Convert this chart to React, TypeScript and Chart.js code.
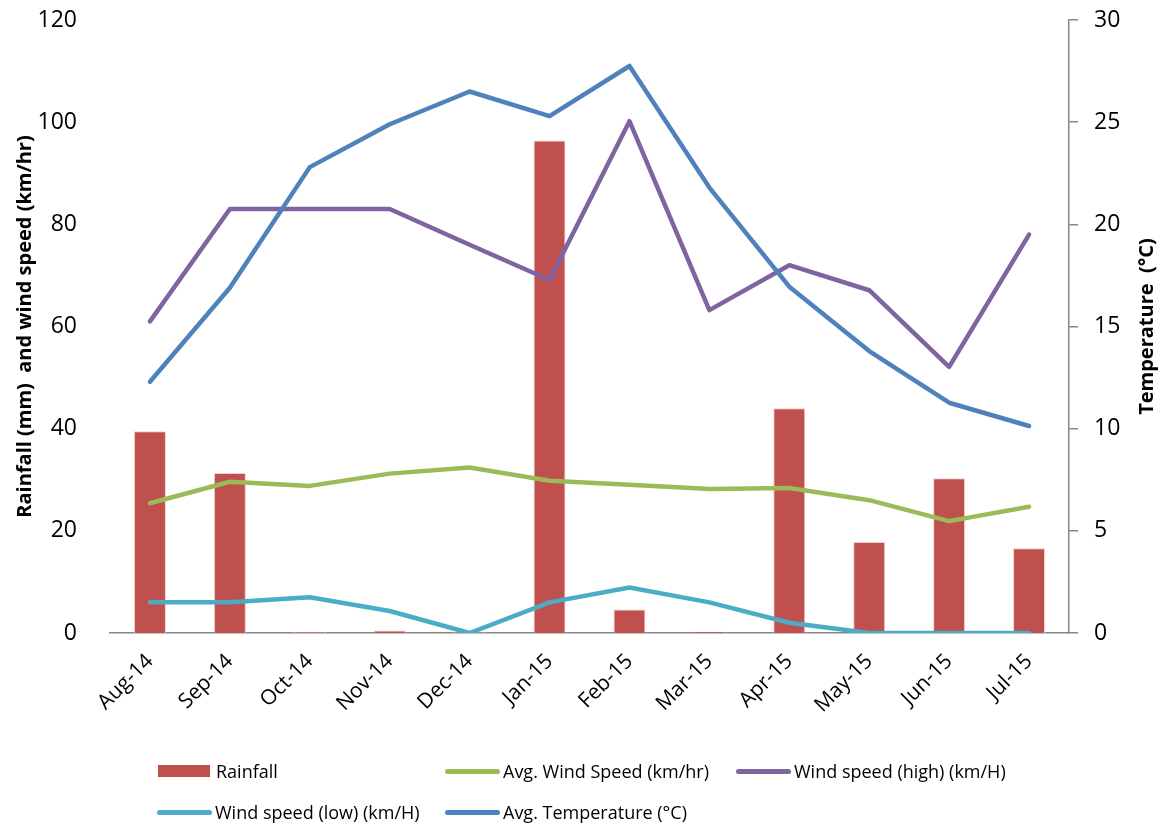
import React, { useEffect, useRef } from "react";
import { Chart, registerables } from "chart.js";

Chart.register(...registerables);

const months = ["Aug-14", "Sep-14", "Oct-14", "Nov-14", "Dec-14", "Jan-15", "Feb-15", "Mar-15", "Apr-15", "May-15", "Jun-15", "Jul-15"];
const rainfall = [39.5, 31.3, 0.2, 0.5, 0.2, 96.4, 4.6, 0.25, 44, 17.8, 30.3, 16.6];
const avgWind = [25.4, 29.6, 28.8, 31.2, 32.4, 29.8, 29.0, 28.2, 28.4, 26.0, 21.9, 24.7];
const windHigh = [61, 83, 83, 83, 76, 69.1, 100.2, 63.2, 72, 67.1, 52.1, 78];
const windLow = [6, 6, 7, 4.3, 0, 6, 8.9, 6, 2, 0, 0, 0];
const avgTemp = [12.3, 16.9, 22.8, 24.9, 26.5, 25.3, 27.75, 21.8, 16.95, 13.8, 11.27, 10.13];
const leftTicks = { min: 0, max: 120, step: 20 };
const rightTicks = { min: 0, max: 30, step: 5 };

const FONT = "'Open Sans', 'DejaVu Sans', sans-serif";
const W = 1169;
const H = 828;

const legendRows = [
  [
    { label: "Rainfall", color: "#C0504D", kind: "bar", x: 158, y: 771 },
    { label: "Avg. Wind Speed (km/hr)", color: "#9BBB59", kind: "line", x: 445, y: 771 },
    { label: "Wind speed (high) (km/H)", color: "#8064A2", kind: "line", x: 736, y: 771 },
  ],
  [
    { label: "Wind speed (low) (km/H)", color: "#4BACC6", kind: "line", x: 157, y: 812 },
    { label: "Avg. Temperature (°C)", color: "#4F81BD", kind: "line", x: 445, y: 812 },
  ],
];

const rightTitlePlugin = {
  id: "rightTitle",
  afterDraw(chart: any) {
    const ctx = chart.ctx;
    const area = chart.chartArea;
    ctx.save();
    ctx.translate(1147, (area.top + area.bottom) / 2);
    ctx.rotate(-Math.PI / 2);
    ctx.font = `bold 20px ${FONT}`;
    ctx.fillStyle = "#000";
    ctx.textAlign = "center";
    ctx.textBaseline = "middle";
    ctx.fillText("Temperature  (°C)", 0, 0);
    ctx.restore();
  },
};

export default function App() {
  const ref = useRef<HTMLCanvasElement>(null);
  useEffect(() => {
    if (!ref.current) return;
    const lineDs = (label: string, data: number[], color: string, axis: string, order: number) => ({
      type: "line" as const,
      label,
      data,
      borderColor: color,
      backgroundColor: color,
      borderWidth: 4.5,
      pointRadius: 0,
      tension: 0,
      yAxisID: axis,
      order,
      borderCapStyle: "round" as const,
      borderJoinStyle: "round" as const,
    });
    const chart = new Chart(ref.current, {
      type: "bar",
      data: {
        labels: months,
        datasets: [
          {
            type: "bar",
            label: "Rainfall",
            data: rainfall,
            backgroundColor: "#C0504D",
            borderColor: "rgba(242,200,200,0.9)",
            borderWidth: 1,
            barPercentage: 0.5,
            categoryPercentage: 0.8,
            yAxisID: "y",
            order: 10,
          } as any,
          lineDs("Avg. Wind Speed (km/hr)", avgWind, "#9BBB59", "y", 5),
          lineDs("Wind speed (high) (km/H)", windHigh, "#8064A2", "y", 4),
          lineDs("Wind speed (low) (km/H)", windLow, "#4BACC6", "y", 3),
          lineDs("Avg. Temperature (°C)", avgTemp, "#4F81BD", "y1", 2),
        ],
      },
      options: {
        responsive: false,
        animation: false,
        layout: { padding: { top: 20, left: 0, right: 0, bottom: 0 } },
        plugins: {
          legend: { display: false },
          tooltip: { enabled: false },
        },
        scales: {
          x: {
            type: "category",
            offset: true,
            grid: { display: false },
            border: { display: true, color: "#868686", width: 1.5 },
            ticks: {
              color: "#000",
              font: { family: FONT, size: 21 },
              maxRotation: 45,
              minRotation: 45,
              padding: 8,
            },
            afterFit: (s: any) => {
              s.height = H - 633;
            },
          },
          y: {
            position: "left",
            min: leftTicks.min,
            max: leftTicks.max,
            ticks: {
              stepSize: leftTicks.step,
              color: "#000",
              font: { family: FONT, size: 23 },
              padding: 25,
            },
            grid: { display: false },
            border: { display: false },
            title: {
              display: true,
              text: "Rainfall (mm)  and wind speed (km/hr)",
              color: "#000",
              font: { family: FONT, size: 20, weight: "bold" },
              padding: { top: 13, bottom: 0 },
            },
            afterFit: (s: any) => {
              s.width = 110;
              s.paddingTop = 0;
              s.paddingBottom = 0;
            },
          },
          y1: {
            position: "right",
            min: rightTicks.min,
            max: rightTicks.max,
            ticks: {
              stepSize: rightTicks.step,
              color: "#000",
              font: { family: FONT, size: 23 },
              padding: 16,
            },
            grid: {
              display: true,
              drawOnChartArea: false,
              drawTicks: true,
              tickLength: 9,
              color: "#868686",
              lineWidth: 1.5,
            },
            border: { display: true, color: "#868686", width: 1.5 },
            afterFit: (s: any) => {
              s.width = W - 1069;
              s.paddingTop = 0;
              s.paddingBottom = 0;
            },
          },
        },
      } as any,
      plugins: [rightTitlePlugin],
    });
    return () => chart.destroy();
  }, []);

  return (
    <div style={{ position: "fixed", left: 0, top: 0, width: W, height: H, background: "#fff" }}>
      <canvas ref={ref} width={W} height={H} style={{ position: "absolute", left: 0, top: 0 }} />
      {legendRows.flat().map((item) => (
        <div
          key={item.label}
          style={{
            position: "absolute",
            left: item.x,
            top: item.y - 14,
            height: 28,
            display: "flex",
            alignItems: "center",
            fontFamily: FONT,
            fontSize: 18,
            color: "#000",
            whiteSpace: "nowrap",
          }}
        >
          {item.kind === "bar" ? (
            <span style={{ display: "inline-block", width: 52, height: 12, background: item.color, marginRight: 6 }} />
          ) : (
            <span
              style={{ display: "inline-block", width: 55, height: 5, borderRadius: 3, background: item.color, marginRight: 3 }}
            />
          )}
          <span>{item.label}</span>
        </div>
      ))}
    </div>
  );
}
